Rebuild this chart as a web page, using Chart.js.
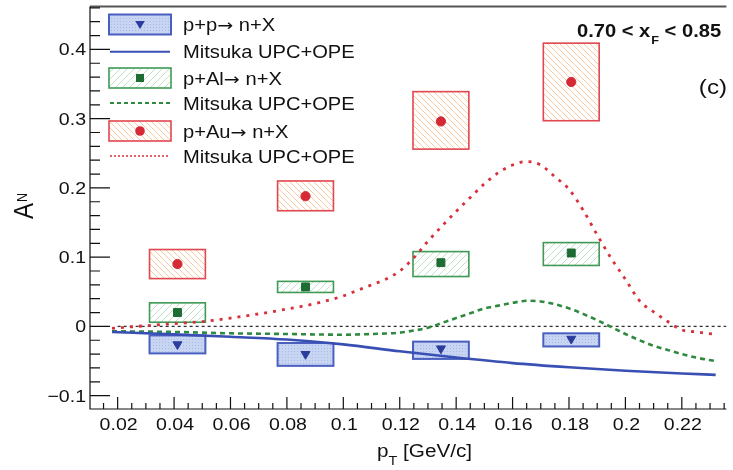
<!DOCTYPE html>
<html>
<head>
<meta charset="utf-8">
<script src="https://cdn.jsdelivr.net/npm/chart.js@4.4.1/dist/chart.umd.min.js"></script>
<style>
  html, body { margin: 0; padding: 0; background: #fff; }
</style>
</head>
<body>
<canvas id="chart" width="733" height="470"></canvas>
<script>
// measured A_N vs pT, 0.70 < xF < 0.85
const ptBins = [0.0412, 0.0866, 0.1346, 0.1808];

const ppAN    = [-0.026, -0.040, -0.032, -0.018];
const ppSysLo = [-0.039, -0.057, -0.047, -0.029];
const ppSysHi = [-0.013, -0.024, -0.022, -0.010];

const alAN    = [0.020, 0.057, 0.092, 0.106];
const alSysLo = [0.006, 0.049, 0.072, 0.088];
const alSysHi = [0.034, 0.065, 0.108, 0.121];

const auAN    = [0.090, 0.188, 0.296, 0.353];
const auSysLo = [0.069, 0.167, 0.256, 0.297];
const auSysHi = [0.111, 0.210, 0.339, 0.409];

// Mitsuka UPC+OPE
const ppCurveX = [0.018, 0.04, 0.06, 0.08, 0.1, 0.12, 0.14, 0.16, 0.18, 0.2, 0.22, 0.232];
const ppCurveY = [-0.008, -0.0115, -0.015, -0.019, -0.026, -0.036, -0.045, -0.053, -0.059, -0.064, -0.068, -0.070];

const alCurveX = [0.018, 0.04, 0.06, 0.08, 0.1, 0.11, 0.12, 0.125, 0.13, 0.135, 0.14, 0.145, 0.15, 0.155, 0.16,
                  0.165, 0.17, 0.175, 0.18, 0.185, 0.19, 0.195, 0.2, 0.205, 0.21, 0.215, 0.22, 0.225, 0.232];
const alCurveY = [-0.007, -0.008, -0.010, -0.011, -0.012, -0.011, -0.009, -0.006, -0.002, 0.005, 0.012, 0.019, 0.026, 0.030, 0.034,
                  0.037, 0.036, 0.032, 0.026, 0.018, 0.009, -0.001, -0.011, -0.020, -0.028, -0.034, -0.040, -0.045, -0.050];

const auCurveX = [0.018, 0.03, 0.04, 0.05, 0.06, 0.07, 0.08, 0.09, 0.1, 0.105, 0.11, 0.115, 0.12, 0.125, 0.13, 0.135, 0.14, 0.145,
                  0.15, 0.155, 0.16, 0.165, 0.17, 0.175, 0.18, 0.185, 0.19, 0.195, 0.2, 0.205, 0.21, 0.215, 0.22, 0.225, 0.231];
const auCurveY = [-0.003, 0.001, 0.004, 0.007, 0.012, 0.018, 0.025, 0.033, 0.044, 0.052, 0.060, 0.068, 0.080, 0.099, 0.123, 0.145, 0.166, 0.186,
                  0.206, 0.222, 0.233, 0.238, 0.233, 0.216, 0.198, 0.168, 0.132, 0.098, 0.068, 0.037, 0.021, 0.007, -0.005, -0.008, -0.011];

const zeroLineX = [0.02, 0.2358];
const zeroLineY = [0, 0];

// axes
const xRange = [0.0102, 0.2358];
const yRange = [-0.1193, 0.4618];
const xTickVals = [0.02, 0.04, 0.06, 0.08, 0.1, 0.12, 0.14, 0.16, 0.18, 0.2, 0.22];
const xTickLabels = ['0.02', '0.04', '0.06', '0.08', '0.1', '0.12', '0.14', '0.16', '0.18', '0.2', '0.22'];
const yTickVals = [-0.1, 0, 0.1, 0.2, 0.3, 0.4];
const yTickLabels = ['\u22120.1', '0', '0.1', '0.2', '0.3', '0.4'];
const xMinorStep = 0.005;
const yMinorStep = 0.02;

const legendLabels = ['p+p\u2192 n+X', 'Mitsuka UPC+OPE', 'p+Al\u2192 n+X', 'Mitsuka UPC+OPE', 'p+Au\u2192 n+X', 'Mitsuka UPC+OPE'];

const boxHalfW = 0.0099;
const SX = 1.15; // text in the reference is drawn a little wide
const FONT = '"Liberation Sans", Arial, Helvetica, sans-serif';

const canvas = document.getElementById('chart');
const c2d = canvas.getContext('2d');

function hatch(size, color, dir, bg) {
  const c = document.createElement('canvas');
  c.width = c.height = size;
  const g = c.getContext('2d');
  g.fillStyle = bg;
  g.fillRect(0, 0, size, size);
  g.strokeStyle = color;
  g.lineWidth = 1;
  g.beginPath();
  if (dir > 0) {
    g.moveTo(-1, size + 1); g.lineTo(size + 1, -1);
    g.moveTo(-1, 1); g.lineTo(1, -1);
    g.moveTo(size - 1, size + 1); g.lineTo(size + 1, size - 1);
  } else {
    g.moveTo(-1, -1); g.lineTo(size + 1, size + 1);
    g.moveTo(size - 1, -1); g.lineTo(size + 1, 1);
    g.moveTo(-1, size - 1); g.lineTo(1, size + 1);
  }
  g.stroke();
  return c2d.createPattern(c, 'repeat');
}

function dots() {
  const c = document.createElement('canvas');
  c.width = c.height = 3;
  const g = c.getContext('2d');
  g.fillStyle = '#c7d4f2';
  g.fillRect(0, 0, 3, 3);
  g.fillStyle = '#aabbe8';
  g.fillRect(0, 0, 1, 1);
  return c2d.createPattern(c, 'repeat');
}

const ppFill = dots();
const alFill = hatch(7, '#bfe2c8', 1, '#ffffff');
const auFill = hatch(6, '#f8c9a2', -1, '#ffffff');

const ppStyle = { fill: ppFill, stroke: '#4a60c0', lw: 2, mark: '#2b3c9c' };
const alStyle = { fill: alFill, stroke: '#3f9a55', lw: 1.6, mark: '#1d6c33' };
const auStyle = { fill: auFill, stroke: '#e0474f', lw: 1.6, mark: '#d52a36' };

function text(ctx, s, x, y, size, align, weight, family) {
  ctx.save();
  ctx.translate(x, y);
  ctx.scale(SX, 1);
  ctx.font = (weight || 'normal') + ' ' + size + 'px ' + (family || FONT);
  ctx.textAlign = align || 'left';
  ctx.textBaseline = 'alphabetic';
  ctx.fillStyle = '#111';
  ctx.fillText(s, 0, 0);
  const w = ctx.measureText(s).width * SX;
  ctx.restore();
  return w;
}

// the arrow glyph in Liberation Sans is tiny, take it from DejaVu
function legendText(ctx, s, x, y, size) {
  const parts = s.split('\u2192');
  let tx = x + text(ctx, parts[0], x, y, size);
  if (parts.length > 1) {
    tx += text(ctx, '\u2192', tx, y, size * 0.95, 'left', 'normal', '"DejaVu Sans", sans-serif');
    text(ctx, parts[1], tx, y, size);
  }
}

function marker(ctx, kind, x, y, color) {
  ctx.fillStyle = color;
  ctx.beginPath();
  if (kind === 'tri') {
    ctx.moveTo(x - 4.8, y - 3.5); ctx.lineTo(x + 4.8, y - 3.5); ctx.lineTo(x, y + 4.5);
  } else if (kind === 'sq') {
    ctx.rect(x - 4, y - 4, 8, 8);
  } else {
    ctx.arc(x, y, 4.8, 0, Math.PI * 2);
  }
  ctx.closePath();
  ctx.fill();
}

function box(ctx, l, t, w, h, st) {
  ctx.fillStyle = st.fill;
  ctx.fillRect(l, t, w, h);
  ctx.strokeStyle = st.stroke;
  ctx.lineWidth = st.lw;
  ctx.strokeRect(l, t, w, h);
}

function sysBoxes(chart, xs, lo, hi, st) {
  const { ctx, scales: { x, y } } = chart;
  xs.forEach((v, i) => {
    const l = x.getPixelForValue(v - boxHalfW), r = x.getPixelForValue(v + boxHalfW);
    const t = y.getPixelForValue(hi[i]), b = y.getPixelForValue(lo[i]);
    box(ctx, l, t, r - l, b - t, st);
  });
}

const decor = {
  id: 'decor',
  beforeDatasetsDraw(chart) {
    const ctx = chart.ctx;
    ctx.save();
    sysBoxes(chart, ptBins, ppSysLo, ppSysHi, ppStyle);
    sysBoxes(chart, ptBins, alSysLo, alSysHi, alStyle);
    sysBoxes(chart, ptBins, auSysLo, auSysHi, auStyle);
    ctx.restore();
  },
  afterDraw(chart) {
    const { ctx, chartArea: a, scales: { x, y } } = chart;
    ctx.save();

    // frame
    ctx.strokeStyle = '#555';
    ctx.lineWidth = 2;
    ctx.beginPath(); ctx.moveTo(a.left, a.top); ctx.lineTo(a.right, a.top); ctx.stroke();
    ctx.strokeStyle = '#111';
    ctx.lineWidth = 1.2;
    ctx.beginPath();
    ctx.moveTo(a.left, a.top); ctx.lineTo(a.left, a.bottom); ctx.lineTo(a.right, a.bottom);
    ctx.stroke();

    // ticks, pointing inwards
    ctx.beginPath();
    for (let k = Math.ceil(xRange[0] / xMinorStep); k * xMinorStep <= xRange[1]; k++) {
      const px = x.getPixelForValue(k * xMinorStep);
      ctx.moveTo(px, a.bottom); ctx.lineTo(px, a.bottom - 6);
    }
    xTickVals.forEach(v => {
      const px = x.getPixelForValue(v);
      ctx.moveTo(px, a.bottom); ctx.lineTo(px, a.bottom - 12);
    });
    for (let k = Math.ceil(yRange[0] / yMinorStep); k * yMinorStep <= yRange[1]; k++) {
      const py = y.getPixelForValue(k * yMinorStep);
      ctx.moveTo(a.left, py); ctx.lineTo(a.left + 10, py);
    }
    yTickVals.forEach(v => {
      const py = y.getPixelForValue(v);
      ctx.moveTo(a.left, py); ctx.lineTo(a.left + 20, py);
    });
    ctx.stroke();

    // tick labels
    xTickVals.forEach((v, i) => text(ctx, xTickLabels[i], x.getPixelForValue(v) + 1, a.bottom + 21, 17, 'center'));
    yTickVals.forEach((v, i) => text(ctx, yTickLabels[i], a.left - 4, y.getPixelForValue(v) + 6, 17, 'right'));

    // axis titles
    let tx = 377;
    tx += text(ctx, 'p', tx, 457, 18);
    tx += text(ctx, 'T', tx, 465, 12.5);
    text(ctx, ' [GeV/c]', tx, 457, 18);

    ctx.save();
    ctx.translate(33, 219);
    ctx.scale(SX, 1);
    ctx.rotate(-Math.PI / 2);
    ctx.fillStyle = '#111';
    ctx.font = '24px ' + FONT;
    ctx.fillText('A', 0, 0);
    const aw = ctx.measureText('A').width;
    ctx.font = '12.5px ' + FONT;
    ctx.fillText('N', aw + 1, -5);
    ctx.restore();

    // labels in the frame
    tx = 577;
    tx += text(ctx, '0.70 < x', tx, 37, 17.5, 'left', 'bold');
    tx += text(ctx, 'F', tx + 1, 44, 11, 'left', 'bold') + 1;
    text(ctx, ' < 0.85', tx, 37, 17.5, 'left', 'bold');
    text(ctx, '(c)', 727, 94, 21, 'right');

    // legend
    const rows = [24.5, 51.7, 78, 103, 131, 156];
    const styles = [ppStyle, alStyle, auStyle];
    const marks = ['tri', 'sq', 'circ'];
    const dashes = [[], [4, 3], [2, 2]];
    const lineCols = ['#3a4fb3', '#2f8a40', '#e0606c'];
    for (let i = 0; i < 3; i++) {
      const yb = rows[2 * i], yl = rows[2 * i + 1];
      box(ctx, 109, yb - 10, 62, 20, styles[i]);
      marker(ctx, marks[i], 140, yb, styles[i].mark);
      ctx.strokeStyle = lineCols[i];
      ctx.lineWidth = 2;
      ctx.setLineDash(dashes[i]);
      ctx.beginPath(); ctx.moveTo(110, yl); ctx.lineTo(170, yl); ctx.stroke();
      ctx.setLineDash([]);
    }
    legendLabels.forEach((s, i) => legendText(ctx, s, 183, rows[i] + 6.5, 17.5));

    ctx.restore();
  }
};

const pts = (xs, ys) => xs.map((v, i) => ({ x: v, y: ys[i] }));

new Chart(canvas, {
  type: 'scatter',
  data: {
    datasets: [
      { data: pts(ptBins, ppAN), pointStyle: 'triangle', rotation: 180, pointRadius: 5.2,
        backgroundColor: ppStyle.mark, borderColor: ppStyle.mark, borderWidth: 1, order: 0 },
      { data: pts(ptBins, alAN), pointStyle: 'rect', pointRadius: 5.6,
        backgroundColor: alStyle.mark, borderColor: alStyle.mark, borderWidth: 1, order: 0 },
      { data: pts(ptBins, auAN), pointStyle: 'circle', pointRadius: 4.6,
        backgroundColor: auStyle.mark, borderColor: auStyle.mark, borderWidth: 1, order: 0 },
      { data: pts(ppCurveX, ppCurveY), showLine: true, pointRadius: 0, borderColor: '#3a4fb3',
        borderWidth: 2.6, cubicInterpolationMode: 'monotone', order: 1 },
      { data: pts(alCurveX, alCurveY), showLine: true, pointRadius: 0, borderColor: '#2f8a40',
        borderWidth: 2.6, borderDash: [5, 4], cubicInterpolationMode: 'monotone', order: 1 },
      { data: pts(auCurveX, auCurveY), showLine: true, pointRadius: 0, borderColor: '#d8303a',
        borderWidth: 2.8, borderDash: [3, 6], cubicInterpolationMode: 'monotone', order: 1 },
      { data: pts(zeroLineX, zeroLineY), showLine: true, pointRadius: 0, borderColor: '#333',
        borderWidth: 1.3, borderDash: [3, 3], order: 2 }
    ]
  },
  options: {
    responsive: false,
    animation: false,
    devicePixelRatio: 1,
    events: [],
    layout: { padding: { top: 5, right: 0, left: 0, bottom: 0 } },
    plugins: { legend: { display: false }, tooltip: { enabled: false } },
    scales: {
      x: {
        type: 'linear', min: xRange[0], max: xRange[1],
        grid: { display: false }, border: { display: false }, ticks: { display: false },
        afterFit: s => { s.height = 61; }
      },
      y: {
        type: 'linear', min: yRange[0], max: yRange[1],
        grid: { display: false }, border: { display: false }, ticks: { display: false },
        afterFit: s => { s.width = 90; }
      }
    }
  },
  plugins: [decor]
});
</script>
</body>
</html>
